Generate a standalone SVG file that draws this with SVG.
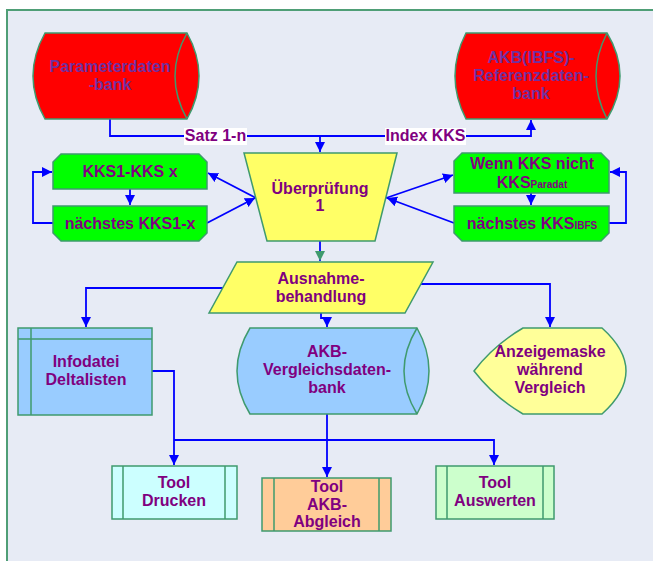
<svg xmlns="http://www.w3.org/2000/svg" width="653" height="561" viewBox="0 0 653 561">
<defs>
<style>
.t{font-family:"Liberation Sans",Arial,sans-serif;font-weight:bold;font-size:16px;fill:#800080;text-anchor:middle}
.tr{fill:#7030a0}
.n{stroke:#3f9a6e;stroke-width:1.5}
.c{fill:none;stroke:#0000ff;stroke-width:1.8}
.sub{font-size:10px}
</style>
<marker id="a" markerUnits="userSpaceOnUse" markerWidth="11" markerHeight="11" refX="10" refY="5" orient="auto">
<path d="M0,0 L10,5 L0,10 Z" fill="#0000ff"/>
</marker>
<marker id="g" markerUnits="userSpaceOnUse" markerWidth="11" markerHeight="11" refX="10" refY="5" orient="auto">
<path d="M0,0 L10,5 L0,10 Z" fill="#3f9a6e"/>
</marker>
</defs>
<rect x="0" y="0" width="653" height="561" fill="#ffffff"/>
<rect x="7" y="10" width="660" height="560" fill="#e7ebf5" stroke="#4f9e76" stroke-width="2"/>

<g id="connectors">
<path class="c" d="M110,119 V136 H531 V120" marker-end="url(#a)"/>
<path class="c" d="M320,136 V152" marker-end="url(#a)"/>
<path class="c" d="M256,198 L208,173" marker-end="url(#a)"/>
<path class="c" d="M207,223 L255,198" marker-end="url(#a)"/>
<path class="c" d="M130,189 V205" marker-end="url(#a)"/>
<path class="c" d="M53,223 H33 V172 H52" marker-end="url(#a)"/>
<path class="c" d="M386,198 L453,175" marker-end="url(#a)"/>
<path class="c" d="M454,223 L387,198" marker-end="url(#a)"/>
<path class="c" d="M531,193 V205" marker-end="url(#a)"/>
<path class="c" d="M609,223 H626 V172 H610" marker-end="url(#a)"/>
<path class="c" d="M320,241 V261" marker-end="url(#g)"/>
<path class="c" d="M223,288 H86 V327" marker-end="url(#a)"/>
<path class="c" d="M421,284 H550 V327" marker-end="url(#a)"/>
<path class="c" d="M321,313 V318 H327 V327" marker-end="url(#a)"/>
<path class="c" d="M152,371 H174 V465" marker-end="url(#a)"/>
<path class="c" d="M327,414 V477" marker-end="url(#a)"/>
<path class="c" d="M174,440 H494 V465" marker-end="url(#a)"/>
<rect x="184" y="128" width="63" height="17" fill="#ffffff"/>
<text class="t" x="215.5" y="141">Satz 1-n</text>
<rect x="385" y="128" width="81" height="17" fill="#ffffff"/>
<text class="t" x="425.5" y="141">Index KKS</text>
</g>

<g id="parameterdatenbank">
<path class="n" fill="#ff0000" d="M45,33 L187,33 Q211,76 187,119 L45,119 Q21,76 45,33 Z"/>
<path class="n" fill="none" d="M187,33 Q163,76 187,119"/>
<text class="t tr" x="110" y="72">Parameterdaten</text>
<text class="t tr" x="110" y="90">-bank</text>
</g>

<g id="referenzdatenbank">
<path class="n" fill="#ff0000" d="M466,33 L607,33 Q633,76 607,119 L466,119 Q444,76 466,33 Z"/>
<path class="n" fill="none" d="M607,33 Q585,76 607,119"/>
<text class="t tr" x="531" y="63">AKB(IBFS)-</text>
<text class="t tr" x="531" y="81">Referenzdaten-</text>
<text class="t tr" x="531" y="99">bank</text>
</g>

<g id="ueberpruefung">
<path class="n" fill="#ffff66" d="M244,153 L397,153 L375,241 L267,241 Z"/>
<text class="t" x="320" y="194">Überprüfung</text>
<text class="t" x="320" y="211">1</text>
</g>

<g id="kks1">
<path class="n" fill="#00ff00" d="M61,154 L199,154 L207,162 L207,189 L53,189 L53,162 Z"/>
<text class="t" x="130" y="177">KKS1-KKS x</text>
</g>

<g id="naechstes-kks1">
<path class="n" fill="#00ff00" d="M53,206 L207,206 L207,233 L199,241 L61,241 L53,233 Z"/>
<text class="t" x="130" y="229">nächstes KKS1-x</text>
</g>

<g id="wenn-kks">
<path class="n" fill="#00ff00" d="M462,153 L601,153 L609,161 L609,193 L454,193 L454,161 Z"/>
<text class="t" x="532" y="169">Wenn KKS nicht</text>
<text class="t" x="532" y="188">KKS<tspan class="sub">Paradat</tspan></text>
</g>

<g id="naechstes-kks-ibfs">
<path class="n" fill="#00ff00" d="M454,206 L609,206 L609,233 L601,241 L462,241 L454,233 Z"/>
<text class="t" x="532" y="229">nächstes KKS<tspan class="sub">IBFS</tspan></text>
</g>

<g id="ausnahmebehandlung">
<path class="n" fill="#ffff66" d="M237,262 L433,262 L405,313 L209,313 Z"/>
<text class="t" x="321" y="284">Ausnahme-</text>
<text class="t" x="321" y="302">behandlung</text>
</g>

<g id="infodatei">
<rect class="n" fill="#99ccff" x="18" y="328" width="134" height="87"/>
<path class="n" fill="none" d="M31,328 V415 M18,339 H152"/>
<text class="t" x="86" y="367">Infodatei</text>
<text class="t" x="86" y="385">Deltalisten</text>
</g>

<g id="vergleichsdatenbank">
<path class="n" fill="#99ccff" d="M250,328 L417,328 Q441,371 417,414 L250,414 Q224,371 250,328 Z"/>
<path class="n" fill="none" d="M417,328 Q391,371 417,414"/>
<text class="t" x="327" y="357">AKB-</text>
<text class="t" x="327" y="375">Vergleichsdaten-</text>
<text class="t" x="327" y="393">bank</text>
</g>

<g id="anzeigemaske">
<path class="n" fill="#ffff99" d="M474,371 Q494,345 523,328 L602,328 Q650,371 602,414 L523,414 Q494,397 474,371 Z"/>
<text class="t" x="550" y="357">Anzeigemaske</text>
<text class="t" x="550" y="375">während</text>
<text class="t" x="550" y="393">Vergleich</text>
</g>

<g id="tool-drucken">
<rect class="n" fill="#ccffff" x="112" y="466" width="125" height="53"/>
<path class="n" fill="none" d="M123,466 V519 M225,466 V519"/>
<text class="t" x="174" y="488">Tool</text>
<text class="t" x="174" y="506">Drucken</text>
</g>

<g id="tool-akb-abgleich">
<rect class="n" fill="#ffcc99" x="262" y="478" width="129" height="53"/>
<path class="n" fill="none" d="M274,478 V531 M379,478 V531"/>
<text class="t" x="327" y="492">Tool</text>
<text class="t" x="327" y="510">AKB-</text>
<text class="t" x="327" y="527">Abgleich</text>
</g>

<g id="tool-auswerten">
<rect class="n" fill="#ccffcc" x="436" y="466" width="118" height="53"/>
<path class="n" fill="none" d="M447,466 V519 M543,466 V519"/>
<text class="t" x="495" y="488">Tool</text>
<text class="t" x="495" y="506">Auswerten</text>
</g>
</svg>
